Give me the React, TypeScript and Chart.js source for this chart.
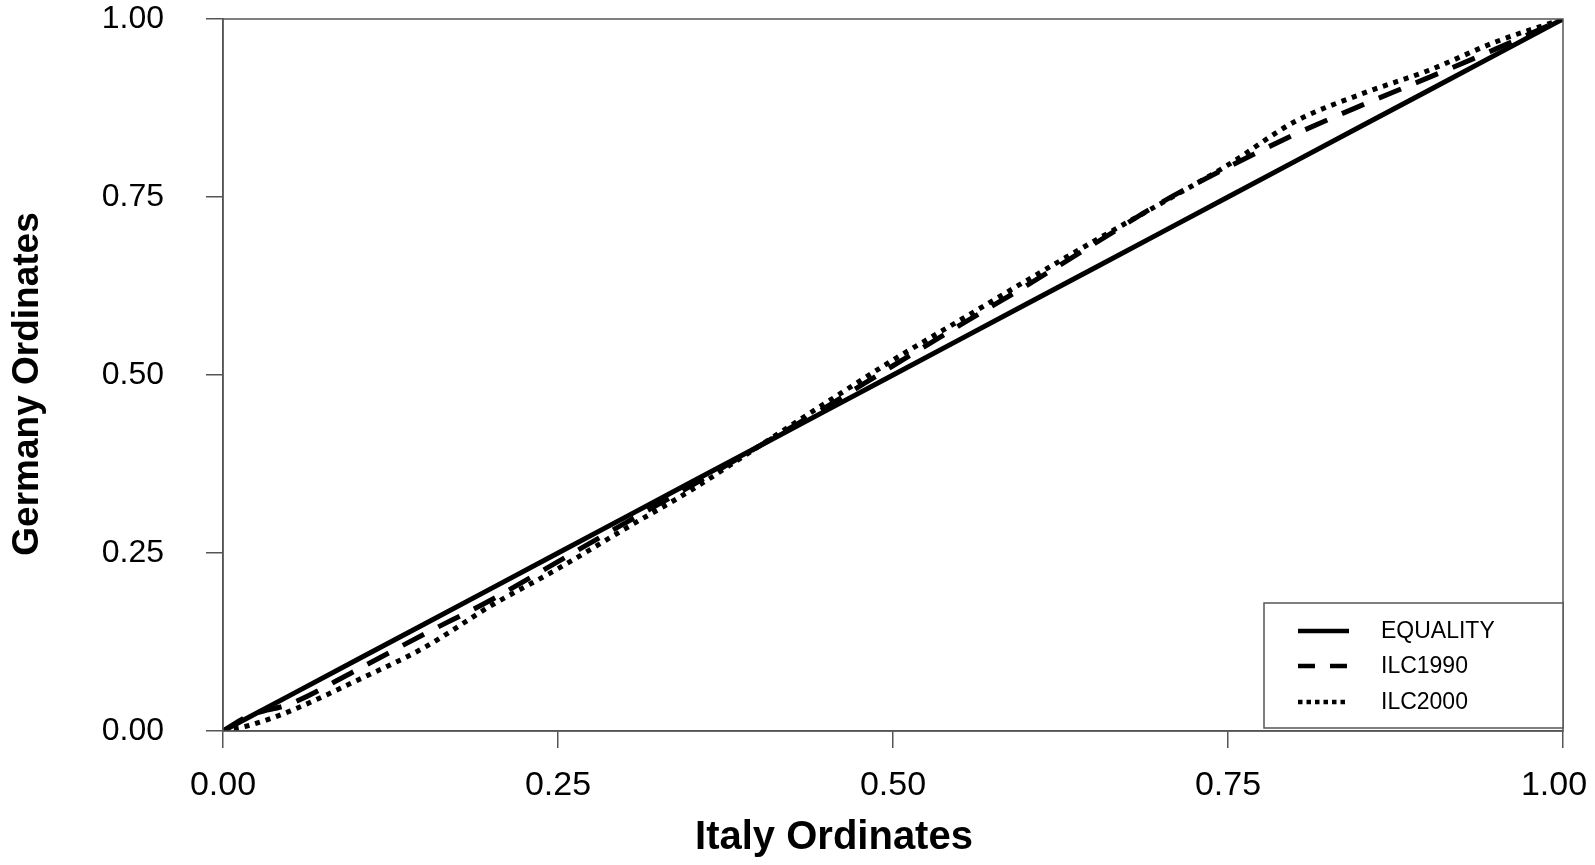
import React, { useEffect, useRef } from "react";
import { Chart, registerables } from "chart.js";

Chart.register(...registerables);

const italyOrdinates = [0, 0.02, 0.05, 0.1, 0.15, 0.2, 0.25, 0.3, 0.35, 0.4, 0.45, 0.5, 0.55, 0.6, 0.65, 0.7, 0.75, 0.8, 0.85, 0.9, 0.95, 1];
const equality = [0, 0.02, 0.05, 0.1, 0.15, 0.2, 0.25, 0.3, 0.35, 0.4, 0.45, 0.5, 0.55, 0.6, 0.65, 0.7, 0.75, 0.8, 0.85, 0.9, 0.95, 1];
const ilc1990 = [0, 0.022, 0.038, 0.086, 0.136, 0.184, 0.238, 0.292, 0.345, 0.4, 0.455, 0.513, 0.57, 0.626, 0.684, 0.742, 0.792, 0.838, 0.879, 0.918, 0.958, 1];
const ilc2000 = [0, 0.008, 0.028, 0.071, 0.117, 0.176, 0.228, 0.284, 0.339, 0.4, 0.461, 0.521, 0.577, 0.633, 0.688, 0.741, 0.795, 0.856, 0.895, 0.928, 0.968, 1];
const seriesNames = ["EQUALITY", "ILC1990", "ILC2000"];
const xTitle = "Italy Ordinates";
const yTitle = "Germany Ordinates";

const FONT = "'Liberation Sans', Arial, Helvetica, sans-serif";
const AXIS_COLOR = "#555";

const toPoints = (ys: number[]) => italyOrdinates.map((x, i) => ({ x, y: ys[i] }));

const framePlugin = {
  id: "frameAndText",
  beforeDraw(chart: any) {
    const sx = chart.scales.x;
    if (sx && sx.getLabelItems) {
      const items = sx.getLabelItems(chart.chartArea);
      const last = items[items.length - 1];
      if (last && last.options && last.options.translation && !last._shifted) {
        last.options.translation = [last.options.translation[0] - 9, last.options.translation[1]];
        last._shifted = true;
      }
    }
  },
  afterDraw(chart: any) {
    const { ctx, chartArea } = chart;
    const { left, right, top, bottom } = chartArea;
    ctx.save();
    ctx.strokeStyle = AXIS_COLOR;
    ctx.lineWidth = 1.5;
    ctx.strokeRect(left, top, right - left, bottom - top);

    ctx.fillStyle = "#000";
    ctx.textAlign = "center";
    ctx.textBaseline = "middle";
    ctx.font = `bold 40px ${FONT}`;
    ctx.fillText(xTitle, 834, 838);
    ctx.save();
    ctx.translate(28, 384);
    ctx.rotate(-Math.PI / 2);
    ctx.font = `bold 37px ${FONT}`;
    ctx.fillText(yTitle, 0, 0);
    ctx.restore();

    const bx = 1264, by = 603, bw = right - 1264, bh = 125;
    ctx.fillStyle = "#fff";
    ctx.fillRect(bx, by, bw, bh);
    ctx.strokeStyle = AXIS_COLOR;
    ctx.lineWidth = 1.5;
    ctx.strokeRect(bx, by, bw, bh);
    const rows = [631, 666, 702];
    const dashes = [[], [17, 15], [4.5, 4]];
    chart.data.datasets.forEach((ds: any, i: number) => {
      ctx.beginPath();
      ctx.setLineDash(dashes[i]);
      ctx.lineCap = "butt";
      ctx.strokeStyle = "#000";
      ctx.lineWidth = 4.5;
      ctx.moveTo(1298, rows[i]);
      ctx.lineTo(1349, rows[i]);
      ctx.stroke();
      ctx.setLineDash([]);
      ctx.fillStyle = "#000";
      ctx.textAlign = "left";
      ctx.textBaseline = "middle";
      ctx.font = `23px ${FONT}`;
      ctx.fillText(ds.label, 1381, rows[i] + 1);
    });
    ctx.restore();
  },
};

export default function App() {
  const ref = useRef<HTMLCanvasElement>(null);
  useEffect(() => {
    if (!ref.current) return;
    const chart = new Chart(ref.current, {
      type: "line",
      data: {
        datasets: [
          {
            label: seriesNames[0],
            data: toPoints(equality),
            borderColor: "#000",
            borderWidth: 5,
            pointRadius: 0,
            borderCapStyle: "butt",
          },
          {
            label: seriesNames[1],
            data: toPoints(ilc1990),
            borderColor: "#000",
            borderWidth: 5,
            borderDash: [24, 16],
            pointRadius: 0,
            borderCapStyle: "butt",
            cubicInterpolationMode: "monotone",
          },
          {
            label: seriesNames[2],
            data: toPoints(ilc2000),
            borderColor: "#000",
            borderWidth: 5,
            borderDash: [5, 6],
            pointRadius: 0,
            borderCapStyle: "butt",
            cubicInterpolationMode: "monotone",
          },
        ],
      },
      options: {
        animation: false,
        responsive: false,
        layout: { padding: { top: 19, right: 32, left: 0, bottom: 0 } },
        plugins: { legend: { display: false }, tooltip: { enabled: false } },
        scales: {
          x: {
            type: "linear",
            min: 0,
            max: 1,
            afterFit: (s: any) => {
              s.height = 134;
              s.paddingLeft = 0;
              s.paddingRight = 0;
            },
            ticks: {
              stepSize: 0.25,
              color: "#000",
              padding: 17,
              maxRotation: 0,
              font: { family: FONT, size: 34 },
              callback: (v: any) => Number(v).toFixed(2),
            },
            grid: { drawOnChartArea: false, drawTicks: true, tickLength: 17, color: AXIS_COLOR, lineWidth: 1.5 },
            border: { display: true, color: AXIS_COLOR, width: 1.5 },
          },
          y: {
            type: "linear",
            min: 0,
            max: 1,
            afterFit: (s: any) => {
              s.width = 223;
              s.paddingTop = 0;
              s.paddingBottom = 0;
            },
            ticks: {
              stepSize: 0.25,
              color: "#000",
              padding: 42,
              font: { family: FONT, size: 32 },
              callback: (v: any) => Number(v).toFixed(2),
            },
            grid: { drawOnChartArea: false, drawTicks: true, tickLength: 17, color: AXIS_COLOR, lineWidth: 1.5 },
            border: { display: true, color: AXIS_COLOR, width: 1.5 },
          },
        },
      },
      plugins: [framePlugin],
    } as any);
    return () => chart.destroy();
  }, []);
  return (
    <div style={{ position: "fixed", left: 0, top: 0, width: 1595, height: 865, background: "#fff" }}>
      <canvas ref={ref} width={1595} height={865} style={{ display: "block" }} />
    </div>
  );
}
